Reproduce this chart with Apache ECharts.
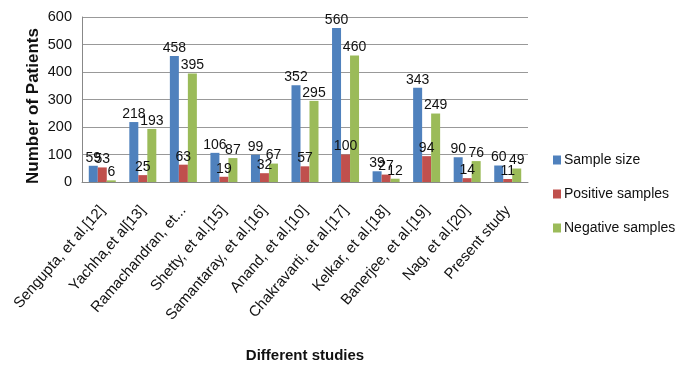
<!DOCTYPE html>
<html>
<head>
<meta charset="utf-8">
<script src="https://cdn.jsdelivr.net/npm/echarts@6/dist/echarts.min.js"></script>
<style>
    html, body { margin: 0; padding: 0; background: #fff; }
    #chart { width: 694px; height: 369px; }
</style>
</head>
<body>
<div id="chart"></div>
<script>
var studies = ['Sengupta, et al.[12]', 'Yachha,et al[13]', 'Ramachandran, et...', 'Shetty, et al.[15]',
    'Samantaray, et al.[16]', 'Anand, et al.[10]', 'Chakravarti, et al.[17]', 'Kelkar, et al.[18]',
    'Banerjee, et al.[19]', 'Nag, et al.[20]', 'Present study'];
var sampleSize = [59, 218, 458, 106, 99, 352, 560, 39, 343, 90, 60];
var positiveSamples = [53, 25, 63, 19, 32, 57, 100, 27, 94, 14, 11];
var negativeSamples = [6, 193, 395, 87, 67, 295, 460, 12, 249, 76, 49];
var yTicks = [0, 100, 200, 300, 400, 500, 600];

var chart = echarts.init(document.getElementById('chart'));
var fontName = 'Liberation Sans';

function barSeries(name, data, color) {
    return {
        name: name,
        type: 'bar',
        data: data,
        barWidth: 9,
        barGap: '0%',
        itemStyle: { color: color },
        label: {
            show: true,
            position: 'top',
            distance: 1,
            color: '#111',
            fontFamily: fontName,
            fontSize: 14
        }
    };
}

var option = {
    animation: false,
    textStyle: { fontFamily: fontName },
    grid: { left: 82, right: 166, top: 17, bottom: 187, containLabel: false },
    graphic: [{
        type: 'text',
        x: 33,
        y: 106,
        rotation: Math.PI / 2,
        style: {
            text: 'Number of Patients',
            font: 'bold 17px ' + fontName,
            fill: '#111',
            textAlign: 'center',
            textVerticalAlign: 'middle'
        }
    }],
    legend: {
        orient: 'vertical',
        left: 548,
        top: 148,
        itemGap: 20,
        itemWidth: 8,
        itemHeight: 9,
        icon: 'rect',
        textStyle: { fontSize: 14, color: '#111', fontFamily: fontName, padding: [0, 0, 0, -2] },
        data: ['Sample size', 'Positive samples', 'Negative samples']
    },
    xAxis: {
        type: 'category',
        data: studies,
        name: 'Different studies',
        nameLocation: 'middle',
        nameGap: 166,
        nameTextStyle: { fontWeight: 'bold', fontSize: 15, color: '#111' },
        axisTick: { show: false },
        axisLine: { lineStyle: { color: '#888' } },
        axisLabel: { rotate: 49, interval: 0, fontSize: 15, color: '#111', margin: 26 }
    },
    yAxis: {
        type: 'value',
        min: yTicks[0],
        max: yTicks[yTicks.length - 1],
        interval: 100,
        axisLine: { show: true, lineStyle: { color: '#888' } },
        axisTick: { show: false },
        axisLabel: { fontSize: 14.5, color: '#111', margin: 10 },
        splitLine: { lineStyle: { color: '#999' } }
    },
    series: [
        barSeries('Sample size', sampleSize, '#4F81BD'),
        barSeries('Positive samples', positiveSamples, '#C0504D'),
        barSeries('Negative samples', negativeSamples, '#9BBB59')
    ]
};
chart.setOption(option);
</script>
</body>
</html>
